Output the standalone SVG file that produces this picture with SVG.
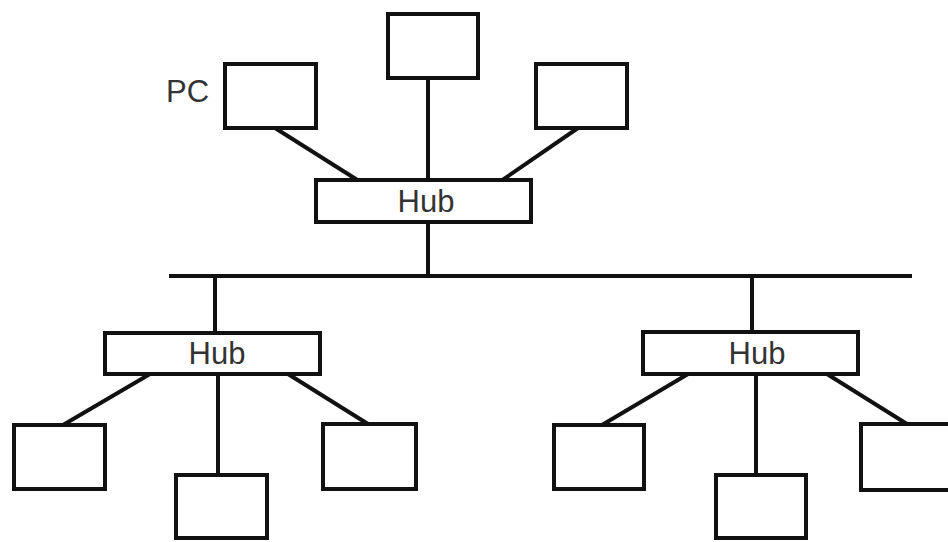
<svg xmlns="http://www.w3.org/2000/svg" width="948" height="542" viewBox="0 0 948 542">
<style>
.box{fill:#fff;stroke:#111;stroke-width:4}
.ln{stroke:#111;stroke-width:4;fill:none}
.lbl{font-family:"Liberation Sans",Arial,sans-serif;font-size:31px;fill:#333}
</style>
<rect width="948" height="542" fill="#fff"/>
<g id="connectors">
<line class="ln" x1="428" y1="78" x2="428" y2="182"/>
<line class="ln" x1="275" y1="128" x2="359" y2="181"/>
<line class="ln" x1="578" y1="128" x2="501" y2="181"/>
<line class="ln" x1="428" y1="222" x2="428" y2="276"/>
<line class="ln" x1="169" y1="276" x2="912" y2="276"/>
<line class="ln" x1="215" y1="276" x2="215" y2="333"/>
<line class="ln" x1="752" y1="276" x2="752" y2="332"/>
<line class="ln" x1="150" y1="374" x2="63" y2="425"/>
<line class="ln" x1="218" y1="373" x2="218" y2="475"/>
<line class="ln" x1="288" y1="374" x2="368" y2="424"/>
<line class="ln" x1="688" y1="374" x2="602" y2="425"/>
<line class="ln" x1="756" y1="373" x2="756" y2="475"/>
<line class="ln" x1="827" y1="374" x2="907" y2="424"/>
</g>
<g id="pc-top-left"><rect class="box" x="225" y="64" width="91" height="64"/></g>
<text class="lbl" x="166" y="102">PC</text>
<g id="pc-top-center"><rect class="box" x="388" y="14" width="90" height="64"/></g>
<g id="pc-top-right"><rect class="box" x="536" y="64" width="91" height="64"/></g>
<g id="hub-top"><rect class="box" x="316" y="180" width="215" height="42"/><text class="lbl" x="426" y="212" text-anchor="middle">Hub</text></g>
<g id="hub-left"><rect class="box" x="105" y="333" width="215" height="41"/><text class="lbl" x="217" y="364" text-anchor="middle">Hub</text></g>
<g id="hub-right"><rect class="box" x="643" y="332" width="215" height="42"/><text class="lbl" x="757" y="364" text-anchor="middle">Hub</text></g>
<g id="pc-bl-1"><rect class="box" x="14" y="425" width="91" height="64"/></g>
<g id="pc-bl-2"><rect class="box" x="176" y="475" width="91" height="63"/></g>
<g id="pc-bl-3"><rect class="box" x="323" y="424" width="93" height="65"/></g>
<g id="pc-br-1"><rect class="box" x="554" y="425" width="90" height="64"/></g>
<g id="pc-br-2"><rect class="box" x="716" y="475" width="90" height="63"/></g>
<g id="pc-br-3"><rect class="box" x="861" y="424" width="100" height="66"/></g>
</svg>
